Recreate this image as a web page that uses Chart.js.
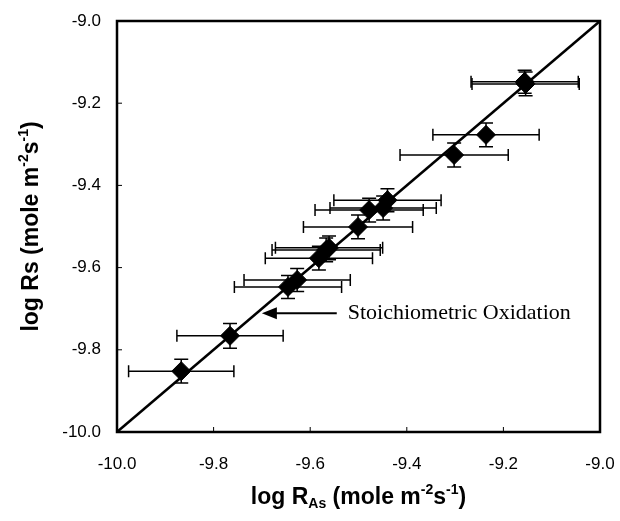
<!DOCTYPE html>
<html>
<head>
<meta charset="utf-8">
<script src="https://cdn.jsdelivr.net/npm/chart.js@4.4.1/dist/chart.umd.min.js"></script>
<style>
  html, body { margin: 0; padding: 0; background: #fff; }
  #wrap { width: 620px; height: 521px; }
</style>
</head>
<body>
<div id="wrap"><canvas id="chart" width="620" height="521"></canvas></div>
<script>
// measured values, log RAs vs log Rs
const logRAs = [-9.867, -9.766, -9.646, -9.627, -9.582, -9.567, -9.561, -9.501, -9.478, -9.449, -9.440, -9.302, -9.236, -9.156, -9.154];
const logRs  = [-9.852, -9.766, -9.647, -9.630, -9.577, -9.557, -9.552, -9.501, -9.460, -9.455, -9.436, -9.326, -9.277, -9.148, -9.153];
const errX   = [0.109, 0.110, 0.111, 0.110, 0.111, 0.112, 0.111, 0.113, 0.112, 0.110, 0.111, 0.112, 0.110, 0.111, 0.111];
const errY   = [0.029, 0.030, 0.028, 0.028, 0.029, 0.029, 0.029, 0.029, 0.029, 0.029, 0.028, 0.029, 0.029, 0.028, 0.029];
const lineX  = [-10, -9];   // 1:1 stoichiometric line
const tickVals = [-10.0, -9.8, -9.6, -9.4, -9.2, -9.0];
const arrowFrom = [-9.545, -9.711];
const arrowTo   = [-9.700, -9.711];
const noteText  = 'Stoichiometric Oxidation';

const points = logRAs.map((x, i) => ({ x: x, y: logRs[i] }));
const linePts = lineX.map(v => ({ x: v, y: v }));

// error bars drawn from the data through the scales
const errorBars = {
  id: 'errorBars',
  beforeDatasetsDraw(chart) {
    const { ctx, scales: { x, y } } = chart;
    ctx.save();
    ctx.strokeStyle = '#000';
    ctx.lineWidth = 1.5;
    logRAs.forEach((vx, i) => {
      const px = x.getPixelForValue(vx);
      const py = y.getPixelForValue(logRs[i]);
      const x0 = x.getPixelForValue(vx - errX[i]);
      const x1 = x.getPixelForValue(vx + errX[i]);
      const y0 = y.getPixelForValue(logRs[i] + errY[i]);
      const y1 = y.getPixelForValue(logRs[i] - errY[i]);
      ctx.beginPath();
      ctx.moveTo(x0, py); ctx.lineTo(x1, py);
      ctx.moveTo(x0, py - 6); ctx.lineTo(x0, py + 6);
      ctx.moveTo(x1, py - 6); ctx.lineTo(x1, py + 6);
      ctx.moveTo(px, y0); ctx.lineTo(px, y1);
      ctx.moveTo(px - 7, y0); ctx.lineTo(px + 7, y0);
      ctx.moveTo(px - 7, y1); ctx.lineTo(px + 7, y1);
      ctx.stroke();
    });
    ctx.restore();
  }
};

// frame, inward ticks, axis titles and the arrow note
const decorations = {
  id: 'decorations',
  afterDraw(chart) {
    const { ctx, chartArea: a, scales: { x, y } } = chart;
    ctx.save();
    ctx.strokeStyle = '#000';
    ctx.lineWidth = 2.5;
    ctx.strokeRect(a.left, a.top, a.right - a.left, a.bottom - a.top);

    ctx.lineWidth = 1;
    ctx.beginPath();
    tickVals.forEach(v => {
      const px = x.getPixelForValue(v);
      ctx.moveTo(px, a.bottom); ctx.lineTo(px, a.bottom - 5);
      const py = y.getPixelForValue(v);
      ctx.moveTo(a.left, py); ctx.lineTo(a.left + 5, py);
    });
    ctx.stroke();

    // arrow
    const ax0 = x.getPixelForValue(arrowFrom[0]);
    const ax1 = x.getPixelForValue(arrowTo[0]);
    const ay = y.getPixelForValue(arrowFrom[1]);
    ctx.lineWidth = 2;
    ctx.beginPath();
    ctx.moveTo(ax0, ay); ctx.lineTo(ax1 + 10, ay);
    ctx.stroke();
    ctx.fillStyle = '#000';
    ctx.beginPath();
    ctx.moveTo(ax1, ay);
    ctx.lineTo(ax1 + 15, ay - 6);
    ctx.lineTo(ax1 + 15, ay + 6);
    ctx.closePath();
    ctx.fill();

    ctx.font = '22px "Liberation Serif", "Times New Roman", serif';
    ctx.textBaseline = 'middle';
    ctx.textAlign = 'left';
    ctx.fillText(noteText, ax0 + 11, ay);

    // axis titles with super/subscripts
    const big = 'bold 23px "Liberation Sans", Arial, sans-serif';
    const small = 'bold 14px "Liberation Sans", Arial, sans-serif';
    function drawRich(parts, cx, cy) {
      let w = 0;
      parts.forEach(p => { ctx.font = p.s ? small : big; w += ctx.measureText(p.t).width; });
      let cur = cx - w / 2;
      ctx.textAlign = 'left';
      ctx.textBaseline = 'alphabetic';
      parts.forEach(p => {
        ctx.font = p.s ? small : big;
        const dy = p.s === 'sup' ? -10 : (p.s === 'sub' ? 4 : 0);
        ctx.fillText(p.t, cur, cy + dy);
        cur += ctx.measureText(p.t).width;
      });
    }
    drawRich([
      { t: 'log R' }, { t: 'As', s: 'sub' }, { t: ' (mole m' }, { t: '-2', s: 'sup' },
      { t: 's' }, { t: '-1', s: 'sup' }, { t: ')' }
    ], (a.left + a.right) / 2, 504);

    ctx.save();
    ctx.translate(38, (a.top + a.bottom) / 2);
    ctx.rotate(-Math.PI / 2);
    drawRich([
      { t: 'log Rs (mole m' }, { t: '-2', s: 'sup' }, { t: 's' }, { t: '-1', s: 'sup' }, { t: ')' }
    ], 0, 0);
    ctx.restore();
    ctx.restore();
  }
};

const tickFont = { family: '"Liberation Sans", Arial, sans-serif', size: 17 };

new Chart(document.getElementById('chart').getContext('2d'), {
  type: 'scatter',
  data: {
    datasets: [
      {
        type: 'line',
        data: linePts,
        borderColor: '#000',
        borderWidth: 2.5,
        pointRadius: 0,
        fill: false,
        order: 2
      },
      {
        data: points,
        pointStyle: 'rectRot',
        pointRadius: 9.5,
        backgroundColor: '#000',
        borderColor: '#000',
        borderWidth: 1,
        order: 1
      }
    ]
  },
  plugins: [errorBars, decorations],
  options: {
    responsive: false,
    animation: false,
    layout: { padding: { left: 0, right: 20, top: 21, bottom: 0 } },
    plugins: { legend: { display: false }, tooltip: { enabled: false } },
    scales: {
      x: {
        type: 'linear',
        min: -10, max: -9,
        grid: { display: false },
        border: { display: false },
        afterFit: s => { s.height = 89; s.paddingLeft = 0; s.paddingRight = 0; },
        afterBuildTicks: s => { s.ticks = tickVals.map(v => ({ value: v })); },
        ticks: {
          padding: 14,
          color: '#000',
          font: tickFont,
          maxRotation: 0,
          callback: v => v.toFixed(1)
        }
      },
      y: {
        type: 'linear',
        min: -10, max: -9,
        grid: { display: false },
        border: { display: false },
        afterFit: s => { s.width = 117; s.paddingTop = 0; s.paddingBottom = 0; },
        afterBuildTicks: s => { s.ticks = tickVals.map(v => ({ value: v })); },
        ticks: {
          padding: 8,
          color: '#000',
          font: tickFont,
          callback: v => v.toFixed(1)
        }
      }
    }
  }
});
</script>
</body>
</html>
